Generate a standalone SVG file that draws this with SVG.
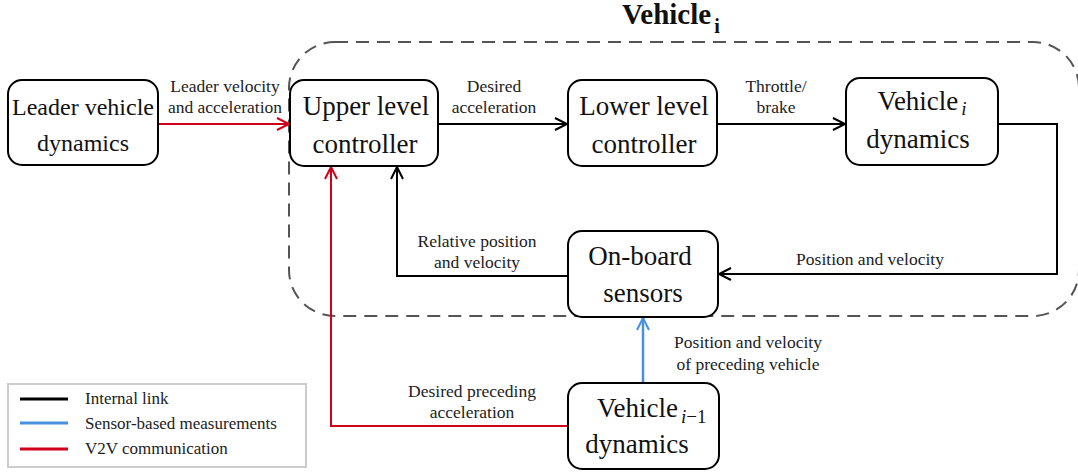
<svg xmlns="http://www.w3.org/2000/svg" width="1078" height="473" viewBox="0 0 1078 473">
  <style>
    text { font-family: "Liberation Serif", "Times New Roman", Tinos, "Noto Serif", "DejaVu Serif", serif; }
    .box { fill: #fff; stroke: #000; stroke-width: 2; }
    .nt { font-size: 27px; fill: #111; text-anchor: middle; }
    .lt { font-size: 17.5px; fill: #222; text-anchor: middle; }
    .lg { font-size: 17px; fill: #222; }
    .k { fill: none; stroke: #000; stroke-width: 2; }
    .r { fill: none; stroke: #d0021b; stroke-width: 2; }
    .b { fill: none; stroke: #4a90e2; stroke-width: 2.5; }
  </style>
  <defs>
    <marker id="ak" markerUnits="userSpaceOnUse" markerWidth="16" markerHeight="16" refX="13" refY="7" orient="auto">
      <path d="M1,1 L13,7 L1,13" fill="none" stroke="#000" stroke-width="2"/>
    </marker>
    <marker id="ar" markerUnits="userSpaceOnUse" markerWidth="16" markerHeight="16" refX="13" refY="7" orient="auto">
      <path d="M1,1 L13,7 L1,13" fill="none" stroke="#d0021b" stroke-width="2"/>
    </marker>
    <marker id="ab" markerUnits="userSpaceOnUse" markerWidth="16" markerHeight="16" refX="13" refY="7" orient="auto">
      <path d="M1,1 L13,7 L1,13" fill="none" stroke="#4a90e2" stroke-width="2"/>
    </marker>
  </defs>

  <rect width="1078" height="473" fill="#fff"/>

  <!-- vehicle i boundary -->
  <g id="vehicle-i-region">
    <rect x="289" y="42" width="790" height="274" rx="46" ry="46" fill="none" stroke="#555" stroke-width="2" stroke-dasharray="13 8"/>
    <text x="622" y="24" font-size="29" font-weight="bold" fill="#111">Vehicle<tspan font-size="20" dx="3" dy="9">i</tspan></text>
  </g>

  <!-- connectors -->
  <g id="connectors">
    <path class="r" d="M158,124 H289" marker-end="url(#ar)"/>
    <path class="k" d="M438,124 H567" marker-end="url(#ak)"/>
    <path class="k" d="M717,124 H845" marker-end="url(#ak)"/>
    <path class="k" d="M998,124 H1057 V274 H719" marker-end="url(#ak)"/>
    <path class="k" d="M567,276 H397 V167" marker-end="url(#ak)"/>
    <path class="r" d="M567,426 H331 V167" marker-end="url(#ar)"/>
    <path class="b" d="M643,383 V318" marker-end="url(#ab)"/>

    <text class="lt" x="225" y="92">Leader velocity</text>
    <text class="lt" x="225" y="113">and acceleration</text>
    <text class="lt" x="494" y="92">Desired</text>
    <text class="lt" x="494" y="113">acceleration</text>
    <text class="lt" x="776" y="92">Throttle/</text>
    <text class="lt" x="776" y="113">brake</text>
    <text class="lt" x="870" y="265">Position and velocity</text>
    <text class="lt" x="477" y="247">Relative position</text>
    <text class="lt" x="477" y="268">and velocity</text>
    <text class="lt" x="748" y="348">Position and velocity</text>
    <text class="lt" x="748" y="370">of preceding vehicle</text>
    <text class="lt" x="472" y="397">Desired preceding</text>
    <text class="lt" x="472" y="418">acceleration</text>
  </g>

  <g id="leader-vehicle">
    <rect class="box" x="8" y="80" width="150" height="85" rx="14"/>
    <text class="nt" x="83" y="115" style="font-size: 24px">Leader vehicle</text>
    <text class="nt" x="83" y="151" style="font-size: 24px">dynamics</text>
  </g>

  <g id="upper-controller">
    <rect class="box" x="290" y="80" width="148" height="86" rx="14"/>
    <text class="nt" x="366" y="115">Upper level</text>
    <text class="nt" x="365" y="153">controller</text>
  </g>

  <g id="lower-controller">
    <rect class="box" x="568" y="80" width="149" height="86" rx="14"/>
    <text class="nt" x="644" y="115">Lower level</text>
    <text class="nt" x="644" y="153">controller</text>
  </g>

  <g id="vehicle-i-dynamics">
    <rect class="box" x="846" y="78" width="152" height="87" rx="14"/>
    <text class="nt" x="922" y="110">Vehicle<tspan font-size="19" font-style="italic" dx="3" dy="5">i</tspan></text>
    <text class="nt" x="918" y="148">dynamics</text>
  </g>

  <g id="onboard-sensors">
    <rect class="box" x="568" y="231" width="150" height="86" rx="14"/>
    <text class="nt" x="640" y="265">On-board</text>
    <text class="nt" x="643" y="302">sensors</text>
  </g>

  <g id="vehicle-prev-dynamics">
    <rect class="box" x="568" y="383" width="151" height="86" rx="14"/>
    <text class="nt" x="597" y="417" style="text-anchor: start">Vehicle<tspan font-size="19" dx="3" dy="6"><tspan font-style="italic">i</tspan>−1</tspan></text>
    <text class="nt" x="637" y="453">dynamics</text>
  </g>

  <g id="legend">
    <rect x="8" y="384" width="298" height="83" fill="#fff" stroke="#ccc" stroke-width="2"/>
    <line x1="20" y1="399" x2="68" y2="399" stroke="#000" stroke-width="3"/>
    <line x1="20" y1="423" x2="68" y2="423" stroke="#4a90e2" stroke-width="3"/>
    <line x1="20" y1="449" x2="68" y2="449" stroke="#d0021b" stroke-width="3"/>
    <text class="lg" x="85" y="404">Internal link</text>
    <text class="lg" x="85" y="429">Sensor-based measurements</text>
    <text class="lg" x="85" y="454">V2V communication</text>
  </g>
</svg>
